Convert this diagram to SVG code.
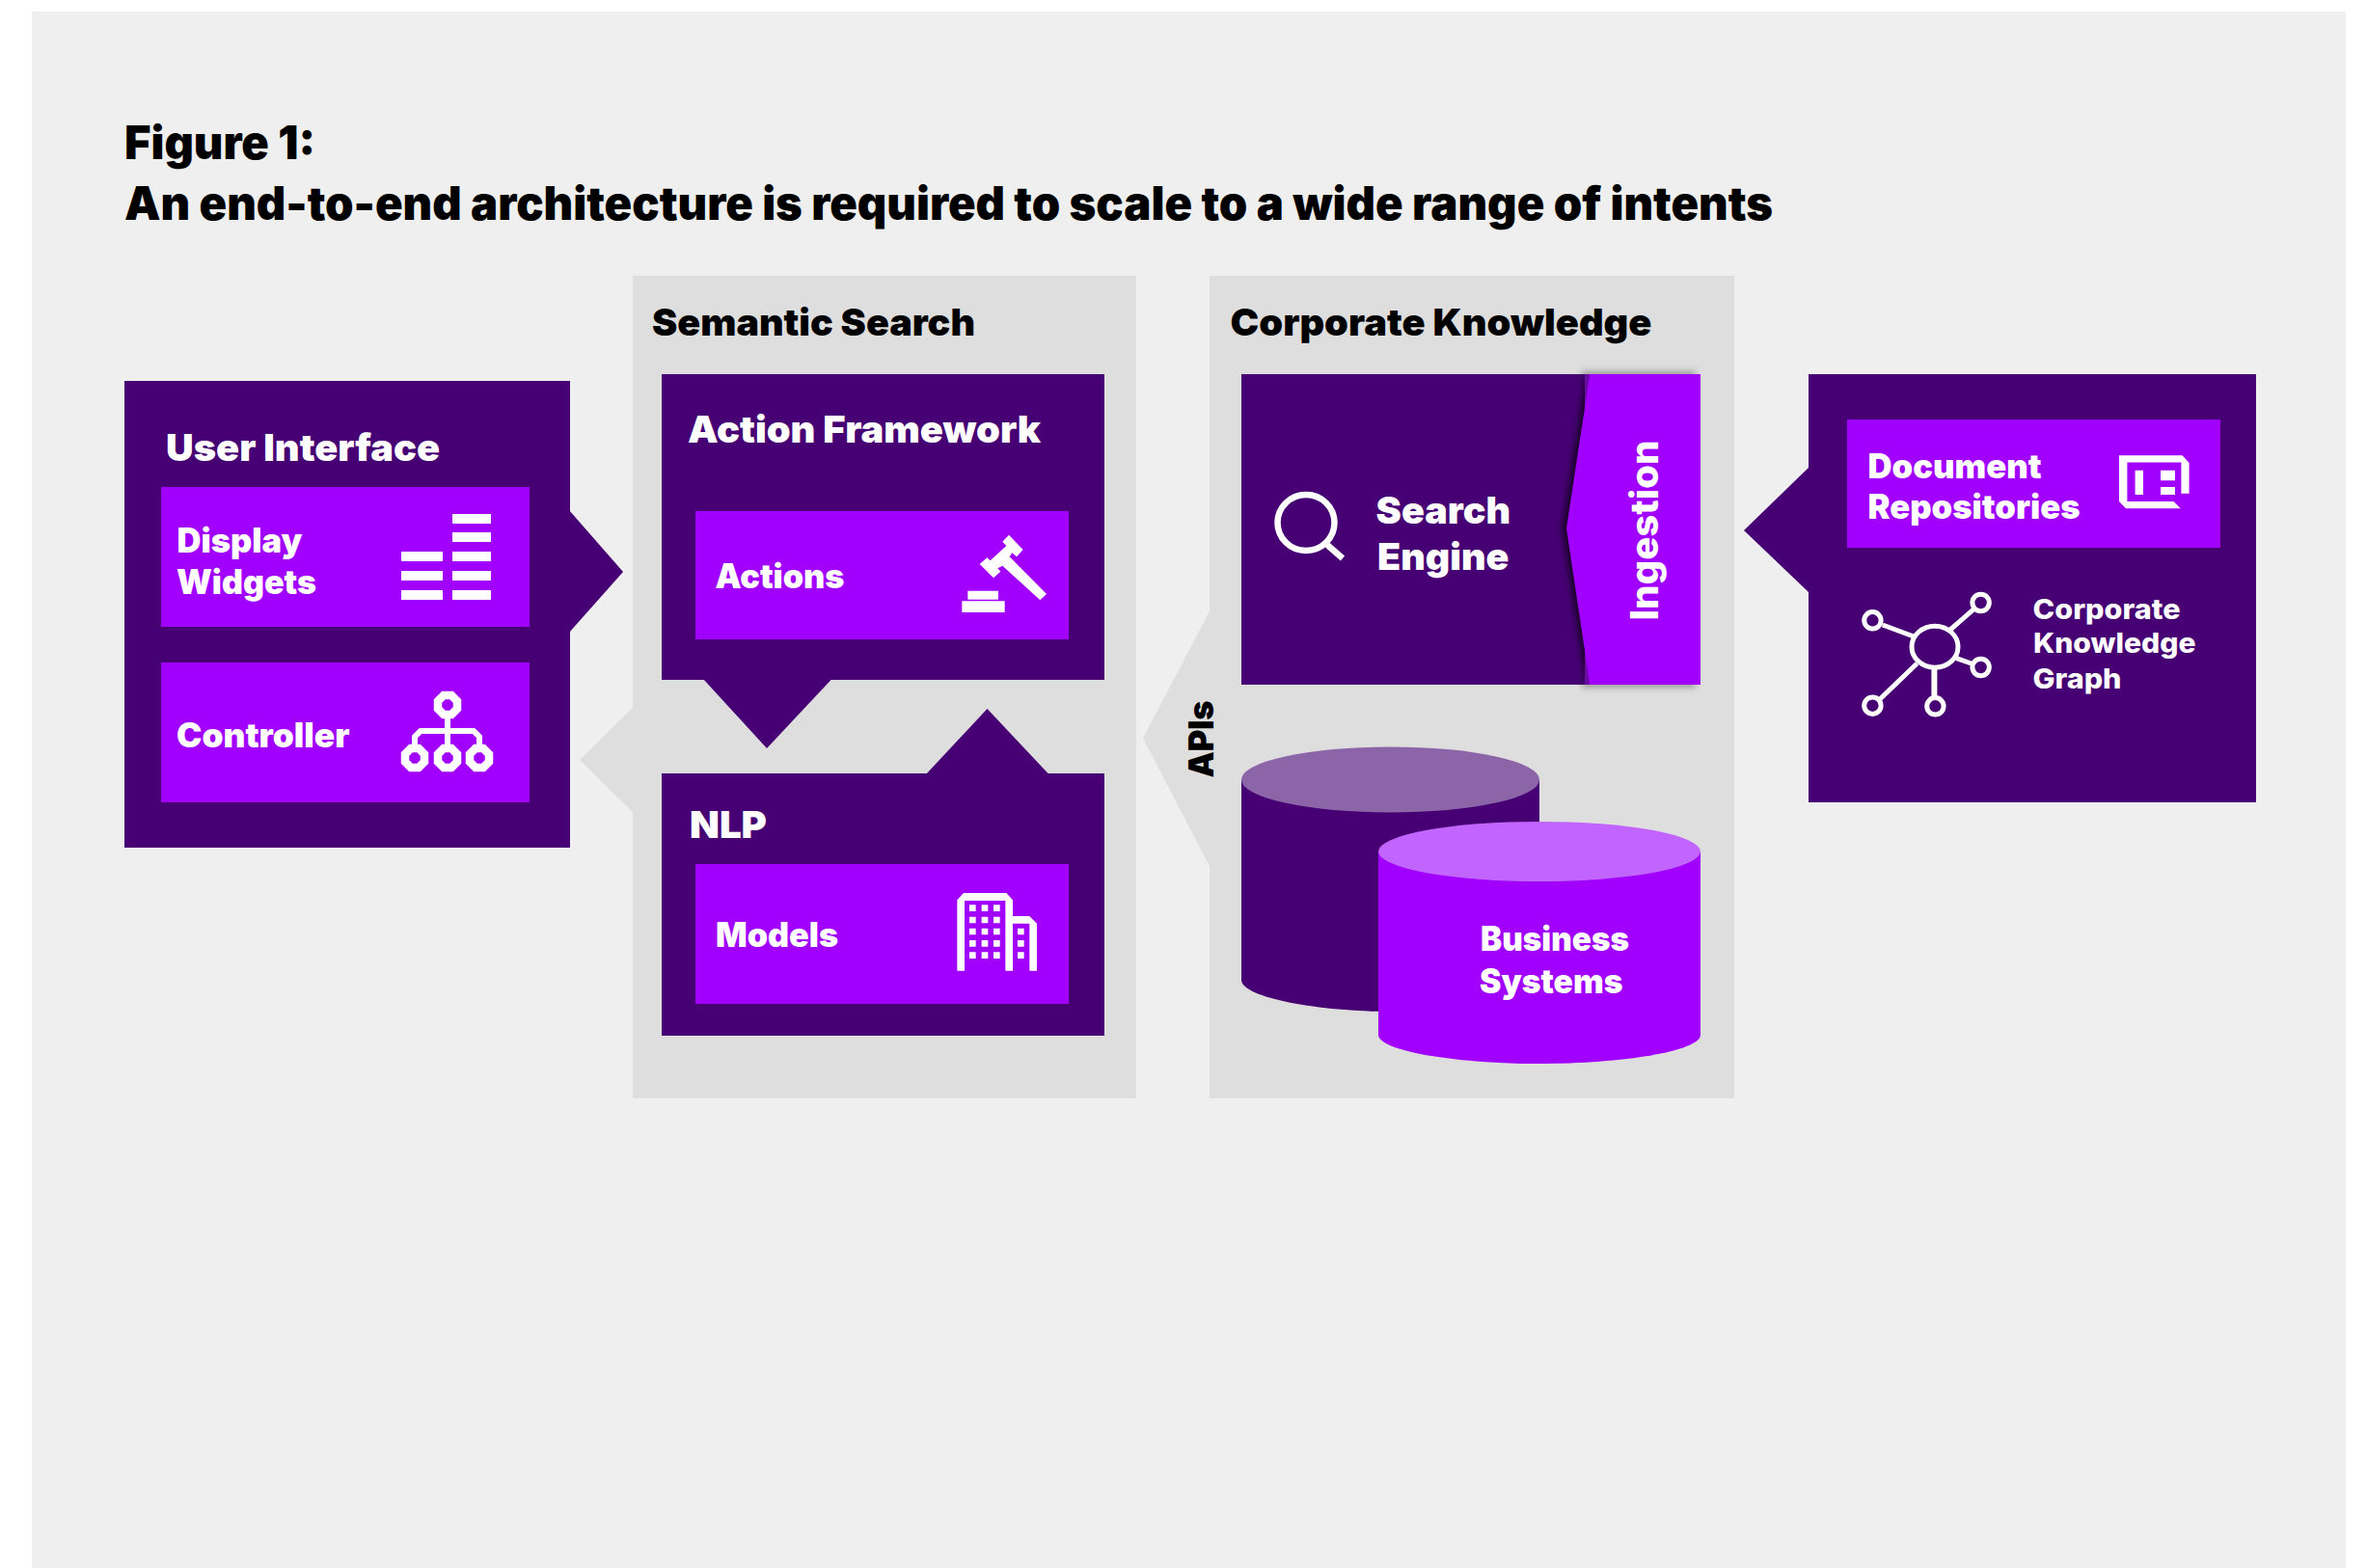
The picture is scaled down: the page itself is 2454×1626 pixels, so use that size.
<svg xmlns="http://www.w3.org/2000/svg" width="2454" height="1626" viewBox="0 0 2454 1626">
<defs>
<style>
text{font-family:"Inter","Liberation Sans",sans-serif;font-weight:900;fill:#fff}
.k{fill:#000}
.t1{font-size:48px}
.t2{font-size:39px}
.t3{font-size:35px}
.t4{font-size:28.5px;font-weight:800}
.dark{fill:#460073}
.bright{fill:#a100ff}
.panel{fill:#dedede}
.w{fill:#fff}
.ln{stroke:#fff;fill:none}
</style>
<filter id="blur" x="-20%" y="-20%" width="140%" height="140%"><feGaussianBlur stdDeviation="3.5"/></filter>
<clipPath id="sb"><rect x="1287" y="388" width="356" height="322"/></clipPath>
</defs>
<rect width="2454" height="1626" fill="#fff"/>
<rect x="33" y="12" width="2399" height="1614" fill="#efefef"/>
<g id="title">
<text class="k t1" x="129" y="164.500" textLength="198" lengthAdjust="spacingAndGlyphs">Figure 1:</text>
<text class="k t1" x="129" y="227.500" textLength="1709" lengthAdjust="spacingAndGlyphs">An end-to-end architecture is required to scale to a wide range of intents</text>
</g>
<g id="semantic-search-panel">
<rect class="panel" x="656" y="286" width="522" height="853"/>
<text class="k t2" x="676" y="348" textLength="335" lengthAdjust="spacingAndGlyphs">Semantic Search</text>
</g>
<g id="corporate-knowledge-panel">
<rect class="panel" x="1254" y="286" width="544" height="853"/>
<text class="k t2" x="1275.500" y="348" textLength="437" lengthAdjust="spacingAndGlyphs">Corporate Knowledge</text>
</g>
<g id="connectors">
<polygon class="dark" points="590,529 646,593 590,656"/>
<polygon class="panel" points="657,733 601,788 657,843"/>
<polygon class="dark" points="729,704 795,776 862.500,704"/>
<polygon class="dark" points="960,803 1023.500,735 1087.500,803"/>
<polygon class="panel" points="1255,632 1185,765.500 1255,900"/>
<polygon class="dark" points="1876,484 1808,550 1876,615"/>
</g>
<text class="k" x="0" y="0" font-size="36" textLength="80" lengthAdjust="spacingAndGlyphs" transform="translate(1257.500 806.500) rotate(-90)">APIs</text>
<g id="user-interface">
<rect class="dark" x="129" y="395" width="462" height="484"/>
<text class="t2" x="172" y="477.500" textLength="284" lengthAdjust="spacingAndGlyphs">User Interface</text>
</g>
<g id="display-widgets">
<rect class="bright" x="167" y="505" width="382" height="145"/>
<text class="t3" x="183.500" y="572.500" textLength="130" lengthAdjust="spacingAndGlyphs">Display</text>
<text class="t3" x="183" y="615.500" textLength="145" lengthAdjust="spacingAndGlyphs">Widgets</text>
<path class="w" d="M469 533h40v10h-40zM469 552h40v10h-40zM469 572h40v10h-40zM469 592h40v10h-40zM469 612h40v10h-40zM416 572h43v10h-43zM416 592h43v10h-43zM416 612h43v10h-43z"/>
</g>
<g id="controller">
<rect class="bright" x="167" y="687" width="382" height="145"/>
<text class="t3" x="183" y="774.500" textLength="179.500" lengthAdjust="spacingAndGlyphs">Controller</text>
<g class="ln" stroke-width="8.500">
<path d="M460 721H468L474 727V735L468 741H460L454 735V727Z"/>
<path d="M426 776H434L440 782V790L434 796H426L420 790V782Z"/>
<path d="M460 776H468L474 782V790L468 796H460L454 790V782Z"/>
<path d="M493 776H501L507 782V790L501 796H493L487 790V782Z"/>
<path stroke-width="6" d="M464 741V776M430 776V764L436 758H491L497 764V776"/>
</g>
</g>
<g id="action-framework">
<rect class="dark" x="686" y="388" width="459" height="317"/>
<text class="t2" x="713" y="458.500" textLength="366" lengthAdjust="spacingAndGlyphs">Action Framework</text>
</g>
<g id="actions">
<rect class="bright" x="721" y="530" width="387" height="133"/>
<text class="t3" x="741.500" y="610" textLength="134" lengthAdjust="spacingAndGlyphs">Actions</text>
<path class="w" transform="translate(980 540) scale(.33333)" d="M70 218H165V245H70ZM52 250H185V285H52ZM107 135L130 115L140 124L190 78L178 65L198 44L242 90L222 112L208 100L200 112L315 228L295 247L178 140L163 148L172 158L150 178Z"/>
</g>
<g id="nlp">
<rect class="dark" x="686" y="802" width="459" height="272"/>
<text class="t2" x="715" y="868.500" textLength="80" lengthAdjust="spacingAndGlyphs">NLP</text>
</g>
<g id="models">
<rect class="bright" x="721" y="896" width="387" height="145"/>
<text class="t3" x="742" y="981.500" textLength="127" lengthAdjust="spacingAndGlyphs">Models</text>
<g transform="translate(980 915) scale(.33333)">
<path class="w" d="M37 275V55L57 33H190L210 55V105H262L285 128V275H262V128H210V275H187V57H60V275Z"/>
<path class="w" d="M75 70h20v20h-20zM113 70h20v20h-20zM150 70h20v20h-20zM75 107h20v20h-20zM113 107h20v20h-20zM150 107h20v20h-20zM75 143h20v20h-20zM113 143h20v20h-20zM150 143h20v20h-20zM75 180h20v20h-20zM113 180h20v20h-20zM150 180h20v20h-20zM75 217h20v20h-20zM113 217h20v20h-20zM150 217h20v20h-20zM225 143h20v20h-20zM225 180h20v20h-20zM225 217h20v20h-20z"/>
</g>
</g>
<g id="search-engine">
<rect x="1640" y="385" width="118" height="328" fill="#000" opacity=".3" filter="url(#blur)"/>
<rect class="dark" x="1287" y="388" width="356.500" height="322"/>
<ellipse class="ln" cx="1354" cy="542" rx="29.500" ry="29" stroke-width="6.500"/>
<path class="ln" stroke-width="6.500" d="M1376 565L1392 579"/>
<text class="t2" x="1426.600" y="542.500" textLength="139.500" lengthAdjust="spacingAndGlyphs">Search</text>
<text class="t2" x="1428" y="590.500" textLength="136.500" lengthAdjust="spacingAndGlyphs">Engine</text>
</g>
<g id="ingestion">
<g clip-path="url(#sb)"><polygon points="1645,388 1620,548 1645,710 1680,710 1680,388" fill="#000" opacity=".7" filter="url(#blur)"/></g>
<rect x="1643" y="388" width="8" height="322" fill="#6a0ba3"/>
<polygon class="bright" points="1648.300,388 1763,388 1763,710 1648.300,710 1624,548"/>
<text x="0" y="0" font-size="40" style="font-weight:800" textLength="187" lengthAdjust="spacingAndGlyphs" transform="translate(1719 643.500) rotate(-90)">Ingestion</text>
</g>
<g id="database-back">
<path class="dark" d="M1287 809V1016C1287 1035 1370 1049 1442 1049S1596 1035 1596 1016V809Z"/>
<ellipse cx="1441.500" cy="808.500" rx="154.500" ry="34" fill="#8c65a8"/>
</g>
<g id="business-systems">
<path class="bright" d="M1429 883V1073C1429 1090 1510 1103 1596 1103S1763 1090 1763 1073V883Z"/>
<ellipse cx="1596" cy="883" rx="167" ry="31" fill="#c264ff"/>
<text class="t3" x="1535" y="986" textLength="154" lengthAdjust="spacingAndGlyphs">Business</text>
<text class="t3" x="1534" y="1029.500" textLength="148.500" lengthAdjust="spacingAndGlyphs">Systems</text>
</g>
<g id="corporate-sources">
<rect class="dark" x="1875" y="388" width="464" height="444"/>
</g>
<g id="document-repositories">
<rect class="bright" x="1915" y="435" width="387" height="133"/>
<text class="t3" x="1936.500" y="495.500" textLength="180" lengthAdjust="spacingAndGlyphs">Document</text>
<text class="t3" x="1936.500" y="538" textLength="220" lengthAdjust="spacingAndGlyphs">Repositories</text>
<path class="w" d="M2197 472.300H2262.500L2269.600 480V511.700H2261.400V479.500H2205.400V520H2253.600L2260.700 527.300H2204L2197 520ZM2213.600 487.700H2222V513H2213.600ZM2240 487.700H2255V498.300H2240ZM2240 505H2255V513H2240Z"/>
</g>
<g id="corporate-knowledge-graph">
<g class="ln" stroke-width="5">
<ellipse cx="2006" cy="670.700" rx="24" ry="21.500"/>
<circle cx="1941.400" cy="643.300" r="8.700"/><circle cx="2053.600" cy="625" r="8.700"/><circle cx="2053.600" cy="692" r="8.700"/><circle cx="1941.400" cy="731.700" r="8.700"/><circle cx="2006.400" cy="732.300" r="8.700"/>
<path d="M1951.800 648L1984 660M2022 653L2046.400 631.700M2028.600 682.700L2043.600 688M1987.500 688L1948 726"/>
<path stroke-width="6" d="M2005.400 694V722.700"/>
</g>
<text class="t4" x="2107.500" y="642" textLength="153" lengthAdjust="spacingAndGlyphs">Corporate</text>
<text class="t4" x="2108" y="677" textLength="168.500" lengthAdjust="spacingAndGlyphs">Knowledge</text>
<text class="t4" x="2107.500" y="714" textLength="92" lengthAdjust="spacingAndGlyphs">Graph</text>
</g>
</svg>
